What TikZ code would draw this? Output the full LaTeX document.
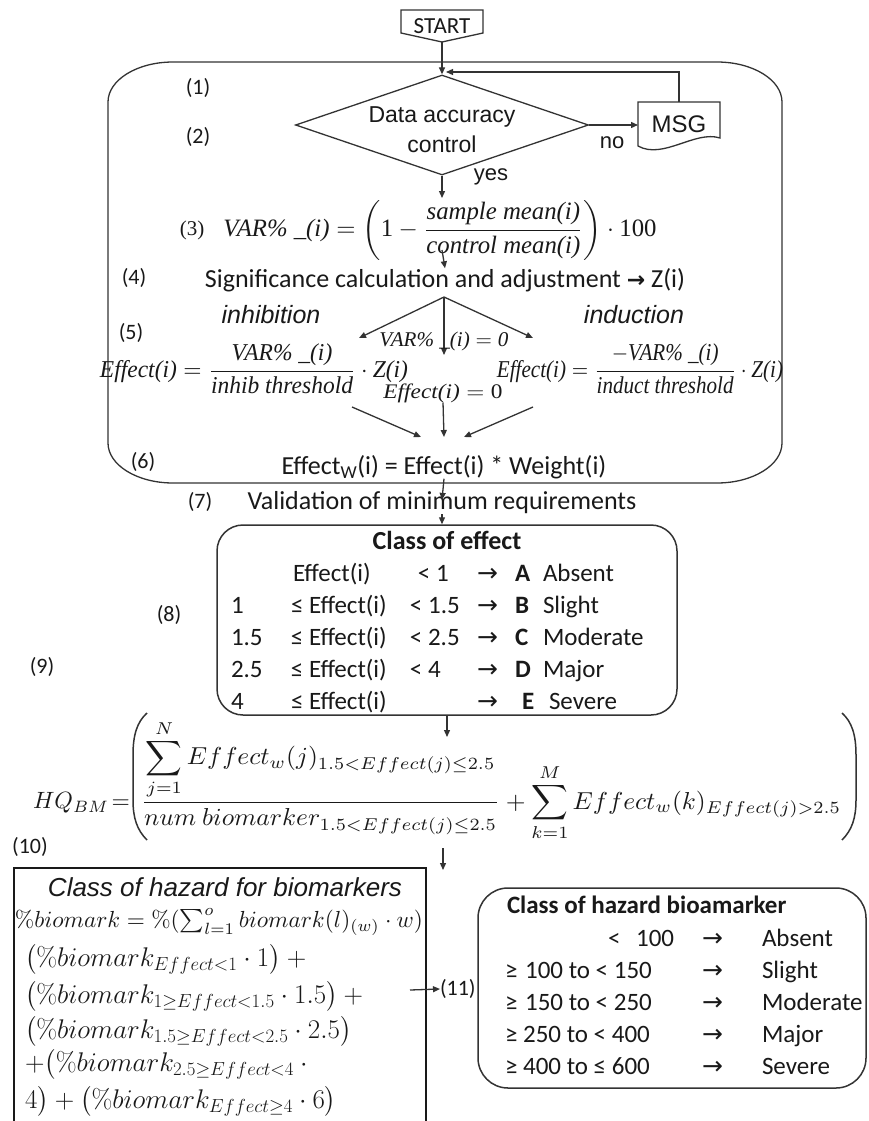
\RequirePackage{fix-cm}
\documentclass[tikz,border=0pt]{standalone}
\usepackage{amsmath}
\usepackage{graphicx}
\usepackage[no-math]{fontspec}
\setmainfont{Carlito}
\newfontfamily\arial{Liberation Sans}
\newfontfamily\tnr{Liberation Serif}
\newfontfamily\dv{DejaVu Sans}
\usetikzlibrary{arrows.meta,shapes.geometric}
\newcommand{\fs}[2]{\fontsize{#1}{#2}\selectfont}
\newcommand{\ti}[1]{\text{\tnr\itshape #1}}
\newcommand{\tu}[1]{\text{\tnr #1}}
\newcommand{\rarr}{{\dv →}}
\begin{document}
\begin{tikzpicture}[x=1pt,y=-1pt,
  ln/.style={line width=1.3pt, draw=black!80},
  arr/.style={ln, -{Triangle[length=7pt,width=6pt]}},
  txt/.style={inner sep=0pt, outer sep=0pt, text=black!90},
  cal/.style={txt, font=\fs{25}{31}},
  lbl/.style={txt, font=\fs{22}{26}},
  ari/.style={txt, font=\arial\fs{23}{30}, align=center},
]
\path[use as bounding box, fill=white] (0,0) rectangle (869,1121);

% big frame
\draw[ln] (173,62) -- (717,62) .. controls (753,62) and (782,80) .. (782,102)
  -- (782,443) .. controls (782,465) and (753,483) .. (717,483)
  -- (173,483) .. controls (137,483) and (108,465) .. (108,443)
  -- (108,102) .. controls (108,80) and (137,62) .. (173,62) -- cycle;

% START
\node[cal, font=\fs{23}{28}, minimum width=82pt, minimum height=32pt] (start) at (442,26) {START};
\draw[ln] (start.north west) -- (start.north east) -- ([yshift=9pt]start.south east)
  -- (start.south) -- ([yshift=9pt]start.south west) -- cycle;

% diamond
\node[diamond, ln, draw, minimum width=293pt, minimum height=100pt, inner sep=0pt] (dia) at (442,125) {};
\node[ari] (diat) at (442,130) {Data accuracy\\control};

% MSG
\node[ari, font=\arial\fs{24}{28}, minimum width=82pt, minimum height=44pt] (msg) at (679,124) {MSG};
\draw[ln] (msg.north west) -- (msg.north east) -- ([yshift=8pt]msg.south east)
  .. controls ([xshift=-25pt,yshift=16pt]msg.south east) and ([xshift=25pt,yshift=-14pt]msg.south west) .. (msg.south west) -- cycle;

\coordinate (jr) at (446,72);
\draw[arr] (start.south) -- (dia.north);
\draw[arr] (msg.north) |- (jr);
\draw[arr] (dia.east) -- (dia.east -| msg.west);
\node[ari, font=\arial\fs{22}{26}] (no) at (612,143) {no};
\node[ari, font=\arial\fs{22}{26}] (yes) at (491,177) {yes};

\node[lbl] (l1) at (198,88) {(1)};
\node[lbl] (l2) at (198,137) {(2)};

% (3)
\coordinate (f3top) at (442,198);
\draw[arr] (dia.south) -- (f3top);
\node[txt] (f3) at (440,230) {\resizebox*{433pt}{60pt}{$\ti{VAR\% \_(i)} = \left(\tu{1}-\dfrac{\ti{sample mean(i)}}{\ti{control mean(i)}}\right)\cdot\tu{100}$}};
\node[txt, font=\tnr\fs{21}{25}] (l3) at (192,230) {(3)};

% (4)
\node[cal, font=\fs{26}{31}] (sig) at (445,280) {Significance calculation and adjustment {\dv\bfseries\fs{22}{31}→} Z(i)};
\coordinate (f3low) at (442,250);
\draw[arr] (f3low) -- (sig.north);
\node[lbl] (l4) at (134,278) {(4)};

% (5)
\coordinate (ap) at (444,297);
\coordinate (tl) at (359,338);
\coordinate (tm) at (444,355);
\coordinate (tr) at (533,338);
\draw[arr] (ap) -- (tl);
\draw[arr] (ap) -- (tm);
\draw[arr] (ap) -- (tr);
\node[txt, font=\arial\itshape\fs{25}{30}] (inh) at (271,315) {inhibition};
\node[txt, font=\arial\itshape\fs{25}{30}] (ind) at (634,315) {induction};
\node[lbl] (l5) at (131,333) {(5)};
\node[txt] (effL) at (254,369) {\resizebox*{308pt}{50pt}{$\ti{Effect(i)} = \dfrac{\ti{VAR\% \_(i)}}{\ti{inhib threshold}}\cdot\ti{Z(i)}$}};
\node[txt] (effR) at (640,369) {\resizebox*{286pt}{50pt}{$\ti{Effect(i)} = \dfrac{-\ti{VAR\% \_(i)}}{\ti{induct threshold}}\cdot\ti{Z(i)}$}};
\node[txt] (var0) at (444,341) {\resizebox*{129pt}{19pt}{$\ti{VAR\% \_(i)} = \ti{0}$}};
\node[txt] (eff0) at (443,393) {\resizebox*{119pt}{19pt}{$\ti{Effect(i)} = \tu{0}$}};

\coordinate (ll1) at (352,407); \coordinate (ll2) at (421,437);
\coordinate (lm2) at (444,437);
\coordinate (lr1) at (533,407); \coordinate (lr2) at (464,437);
\draw[arr] (ll1) -- (ll2);
\draw[arr] (eff0.south) -- (lm2);
\draw[arr] (lr1) -- (lr2);

% (6)
\node[cal, font=\fs{26}{31}] (effw) at (444,467) {Effect\textsubscript{W}(i) = Effect(i) * Weight(i)};
\node[lbl] (l6) at (143,462) {(6)};

% (7)
\node[cal, font=\fs{26}{31}] (valid) at (442,503) {Validation of minimum requirements};
\node[lbl] (l7) at (200,502) {(7)};
\draw[arr] (effw.south) -- ([yshift=-8pt]valid.north);

% class of effect
\node[draw, ln, line width=1.5pt, rounded corners=26pt, minimum width=460pt, minimum height=190pt] (cls) at (447,620) {};
\draw[arr] (valid.south) -- (valid.south |- cls.north);
\node[cal, font=\bfseries\fs{26}{31}] (clst) at (447,540) {Class of effect};
\node[cal, anchor=base west, font=\fs{25}{32}] (clsrows) at (231,581) {%
\begin{tabular}[t]{@{}p{60pt}@{}p{119pt}@{}p{67pt}@{}p{38pt}@{}p{28pt}@{}l@{}}
 & \hspace{2pt}Effect(i) & \hspace{8pt}< 1 & \rarr & \textbf{A} & Absent\\
1 & ≤ Effect(i) & < 1.5 & \rarr & \textbf{B} & Slight\\
1.5 & ≤ Effect(i) & < 2.5 & \rarr & \textbf{C} & Moderate\\
2.5 & ≤ Effect(i) & < 4 & \rarr & \textbf{D} & Major\\
4 & ≤ Effect(i) & & \rarr & \hspace{7pt}\textbf{E} & \hspace{6pt}Severe
\end{tabular}};
\node[lbl] (l8) at (169,615) {(8)};
\node[lbl] (l9) at (42,667) {(9)};

% HQ formula
\coordinate (hqtop) at (447,737);
\draw[arr] (cls.south) -- (hqtop);
\node[txt, anchor=west] (hqa) at (33,803) {\resizebox{97pt}{!}{$HQ_{BM}\!=$}};
\node[txt, anchor=north west] (hqc) at (141,720) {\resizebox*{700pt}{121pt}{$\displaystyle \frac{\displaystyle\sum_{j=1}^{N} Effect_w(j)_{1.5<Effect(j)\leq 2.5}}{num\ biomarker_{1.5<Effect(j)\leq 2.5}} + \sum_{k=1}^{M} Effect_w(k)_{Effect(j)>2.5}$}};
\draw[ln, line width=1.5pt] (147,713) .. controls (137,722) and (133,735) .. (133,755) -- (133,800) .. controls (133,818) and (137,830) .. (147,840);
\draw[ln, line width=1.5pt] (842,713) .. controls (852,722) and (856,735) .. (856,755) -- (856,800) .. controls (856,818) and (852,830) .. (842,840);
\coordinate (hqb1) at (443,848);
\coordinate (hqb2) at (443,870);
\draw[arr] (hqb1) -- (hqb2);
\node[lbl] (l10) at (30,847) {(10)};

% left box
\node[draw, line width=2.2pt, draw=black!90, minimum width=412pt, minimum height=290pt, anchor=north west] (hzl) at (13,867) {};
\node[txt, font=\arial\itshape\fs{26}{31}] (hzlt) at (225,887) {Class of hazard for biomarkers};
\node[txt, anchor=west] (bm0) at (15,922) {\resizebox{408pt}{!}{$\% biomark = \%(\textstyle\sum_{l=1}^{o} biomark(l)_{(w)}\cdot w)$}};
\node[txt, anchor=base west, font=\fs{27}{33}] (bm1) at (25,966) {$\bigl(\% biomark_{Effect<1}\cdot 1\bigr) +{}$};
\node[txt, anchor=base west, font=\fs{27}{33}] (bm2) at (25,1003) {$\bigl(\% biomark_{1\geq Effect<1.5}\cdot 1.5\bigr) +{}$};
\node[txt, anchor=base west, font=\fs{27}{33}] (bm3) at (25,1038) {$\bigl(\% biomark_{1.5\geq Effect<2.5}\cdot 2.5\bigr)$};
\node[txt, anchor=base west, font=\fs{27}{33}] (bm4) at (25,1071) {$+\bigl(\% biomark_{2.5\geq Effect<4}\cdot{}$};
\node[txt, anchor=base west, font=\fs{27}{33}] (bm5) at (25,1108) {$4\bigr)+\bigl(\% biomark_{Effect\geq 4}\cdot 6\bigr)$};

% (11)
\node[lbl, anchor=west] (l11) at (440,989) {(11)};
\coordinate (a11) at (410,990);
\draw[arr] (a11) -- (l11.west);

% right box
\node[draw, ln, line width=1.5pt, rounded corners=30pt, minimum width=388pt, minimum height=200pt] (hzr) at (672,988) {};
\node[cal, anchor=base west, font=\bfseries\fs{25}{30}] (hzrt) at (507,913) {Class of hazard bioamarker};
\node[cal, anchor=base west, font=\fs{25}{32}] (hzrrows) at (505,946) {%
\begin{tabular}[t]{@{}p{197pt}@{}p{60pt}@{}l@{}}
\hspace{103pt}< \hspace{10pt}100 & \rarr & Absent\\
≥ \hspace{2pt}100 to < 150 & \rarr & Slight\\
≥ \hspace{2pt}150 to < 250 & \rarr & Moderate\\
≥ 250 to < 400 & \rarr & Major\\
≥ 400 to ≤ 600 & \rarr & Severe
\end{tabular}};
\end{tikzpicture}
\end{document}
